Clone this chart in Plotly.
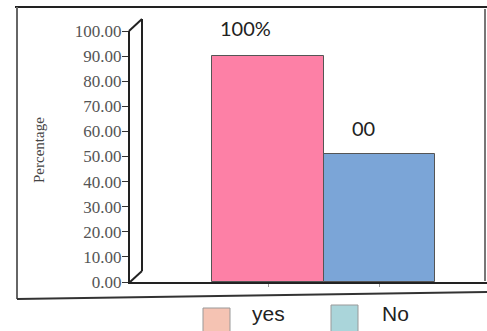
import plotly.graph_objects as go

categories = ["yes", "No"]
values = [90, 51]
bar_labels = ["100%", "00"]
y_ticks = [0, 10, 20, 30, 40, 50, 60, 70, 80, 90, 100]
y_tick_text = ["%.2f" % v for v in y_ticks]
y_title = "Percentage"

W, H = 487, 331
def px(x):
    return x / W
def py(y):
    return 1 - y / H

bar_colors = ["#fd80a6", "#7ba5d7"]
legend_colors = ["#f5c3b3", "#aad5da"]

fig = go.Figure()
fig.add_trace(go.Bar(
    x=categories, y=values,
    marker=dict(color=bar_colors, line=dict(color="#555555", width=1)),
    showlegend=False, hoverinfo="skip",
))

# bar value labels
label_shifts = [(-23, 28), (-16, 26)]
for c, v, t, (dx, dy) in zip(categories, values, bar_labels, label_shifts):
    fig.add_annotation(x=c, y=v, text=t, showarrow=False, xshift=dx, yshift=dy,
                       yanchor="middle", xanchor="center",
                       font=dict(family="Lato", size=20, color="#222222"))

x_left, x_right = 130, 487
unit = 111.5
c0 = 268
fig.update_layout(
    width=W, height=H,
    margin=dict(l=0, r=0, t=0, b=0, pad=0, autoexpand=False),
    paper_bgcolor="white", plot_bgcolor="white",
    showlegend=False,
    bargap=0,
    xaxis=dict(domain=[px(x_left), 1],
               range=[(x_left - c0) / unit, (x_right - c0) / unit],
               showgrid=False, zeroline=False, showticklabels=False,
               showline=True, linecolor="#222222", linewidth=2,
               ticks="outside", ticklen=3, tickcolor="#999999",
               automargin=False),
    yaxis=dict(domain=[py(282), py(31)], range=[0, 100],
               tickvals=y_ticks, ticktext=y_tick_text,
               showgrid=False, zeroline=False,
               showline=True, linecolor="#222222", linewidth=2,
               ticks="outside", ticklen=6, tickcolor="#333333",
               ticklabelstandoff=-3,
               automargin=False,
               tickfont=dict(family="Liberation Serif", size=17, color="#555555")),
)

fig.add_annotation(xref="paper", yref="paper", x=px(39), y=py(150), text=y_title,
                   textangle=-90, showarrow=False, xanchor="center", yanchor="middle",
                   font=dict(family="Liberation Serif", size=15, color="#444444"))

def line(x0, y0, x1, y1, color="#333333", width=2):
    fig.add_shape(type="line", xref="paper", yref="paper",
                  x0=px(x0), y0=py(y0), x1=px(x1), y1=py(y1),
                  line=dict(color=color, width=width))

# outer frame
line(15, 7, 487, 7, "#222222", 2)
line(17, 7, 17, 299, "#666666", 2)
line(17, 299, 487, 292, "#333333", 2)
line(485, 9, 485, 281, "#777777", 2)
# 3D wall
line(142, 19, 142, 271, "#222222", 2)
line(129, 31, 142, 19, "#222222", 2)
line(130, 282, 142, 271, "#222222", 2)

# legend
legend_boxes = [(203, 308), (331, 305)]
legend_text_x = [250, 380]
for c, col, (bx, by), tx in zip(categories, legend_colors, legend_boxes, legend_text_x):
    fig.add_shape(type="rect", xref="paper", yref="paper",
                  x0=px(bx), x1=px(bx + 27), y0=py(by), y1=py(by + 27),
                  fillcolor=col, line=dict(color="#999999", width=1))
    fig.add_annotation(xref="paper", yref="paper", x=px(tx), y=py(313), text=c,
                       showarrow=False, xanchor="left", yanchor="middle",
                       font=dict(family="Liberation Sans", size=21, color="#222222"))

fig.write_html("out.html")
